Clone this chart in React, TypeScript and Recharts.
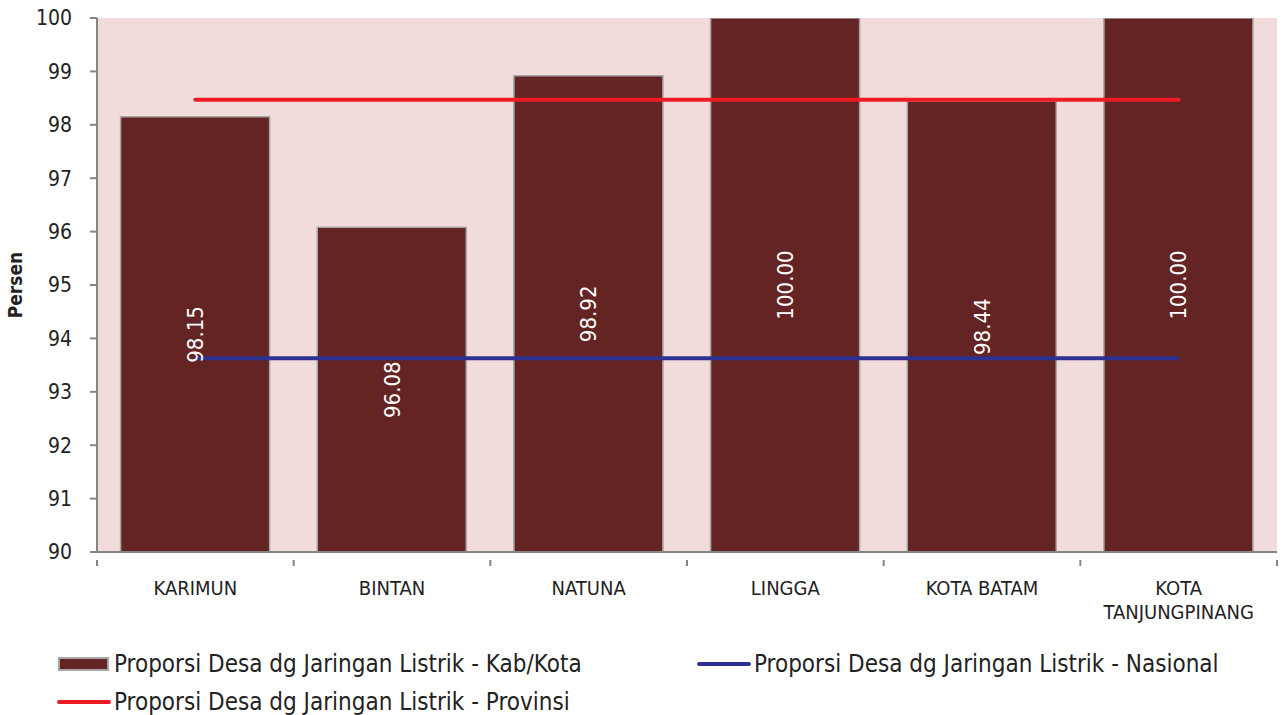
import React from "react";
import {
  Bar,
  CartesianGrid,
  ComposedChart,
  LabelList,
  Legend,
  Line,
  XAxis,
  YAxis,
} from "recharts";

const categories = ["KARIMUN", "BINTAN", "NATUNA", "LINGGA", "KOTA BATAM", "KOTA TANJUNGPINANG"];
const kabKota = [98.15, 96.08, 98.92, 100.0, 98.44, 100.0];
const nasional = [93.63, 93.63, 93.63, 93.63, 93.63, 93.63];
const provinsi = [98.47, 98.47, 98.47, 98.47, 98.47, 98.47];
const yTicks = [90, 91, 92, 93, 94, 95, 96, 97, 98, 99, 100];

const W = 1284;
const H = 715;
const FONT = "'DejaVu Sans Condensed', 'DejaVu Sans', sans-serif";
const BAR = "#632423";
const BLUE = "#2e3192";
const RED = "#ed1c24";
const AXIS = "#868686";

const data = categories.map((name, i) => ({
  name,
  kab: kabKota[i],
  nas: nasional[i],
  prov: provinsi[i],
}));

const PLOT_LEFT = 97;
const PLOT_RIGHT = 7;
const HALF_BAND = (W - PLOT_LEFT - PLOT_RIGHT) / categories.length / 2;

function CategoryTick(props: any) {
  const { x, y, payload, index } = props;
  const label: string = payload.value;
  const sp = label.indexOf(" ");
  const lines = label.length > 12 ? [label.slice(0, sp), label.slice(sp + 1)] : [label];
  return (
    <g>
      <line x1={x - HALF_BAND} x2={x - HALF_BAND} y1={y} y2={y + 6} stroke={AXIS} strokeWidth={2} />
      {index === categories.length - 1 && (
        <line x1={x + HALF_BAND} x2={x + HALF_BAND} y1={y} y2={y + 6} stroke={AXIS} strokeWidth={2} />
      )}
      <text x={x} y={y + 35} textAnchor="middle" fontSize={20} fill="#222" fontFamily={FONT}>
        {lines.map((l, i) => (
          <tspan key={i} x={x} dy={i === 0 ? 0 : 24}>
            {l}
          </tspan>
        ))}
      </text>
    </g>
  );
}

function LegendContent() {
  const items = [
    { label: "Proporsi Desa dg Jaringan Listrik - Kab/Kota", kind: "bar", color: BAR, x: 58, y: 664 },
    { label: "Proporsi Desa dg Jaringan Listrik - Nasional", kind: "line", color: BLUE, x: 697, y: 664 },
    { label: "Proporsi Desa dg Jaringan Listrik - Provinsi", kind: "line", color: RED, x: 57, y: 702 },
  ];
  return (
    <div style={{ position: "relative", width: W, height: 80 }}>
      {items.map((it) => (
        <div
          key={it.label}
          style={{
            position: "absolute",
            left: it.x,
            top: it.y - 640 - 16,
            height: 32,
            display: "flex",
            alignItems: "center",
            fontFamily: FONT,
            fontSize: 24,
            color: "#222",
            whiteSpace: "nowrap",
          }}
        >
          {it.kind === "bar" ? (
            <span
              style={{
                display: "inline-block",
                width: 47,
                height: 10,
                background: it.color,
                border: "2px solid #a6a6a6",
                marginRight: 5,
              }}
            />
          ) : (
            <span
              style={{
                display: "inline-block",
                width: 54,
                height: 4,
                background: it.color,
                borderRadius: 2,
                marginRight: 3,
              }}
            />
          )}
          {it.label}
        </div>
      ))}
    </div>
  );
}

export default function App() {
  return (
    <div style={{ position: "absolute", left: 0, top: 0, width: W, height: H, background: "#fff" }}>
      <ComposedChart
        width={W}
        height={H}
        data={data}
        margin={{ top: 18, right: PLOT_RIGHT, left: 0, bottom: 23 }}
        barCategoryGap="12%"
      >
        <CartesianGrid horizontal={false} vertical={false} fill="#f2dcdb" />
        <XAxis
          dataKey="name"
          height={60}
          interval={0}
          tickLine={false}
          axisLine={{ stroke: AXIS, strokeWidth: 2 }}
          tick={<CategoryTick />}
        />
        <XAxis xAxisId="top" dataKey="name" orientation="top" height={0} tick={false} tickLine={false} axisLine={{ stroke: "#a0a0a0", strokeWidth: 2 }} />
        <YAxis
          domain={[90, 100]}
          ticks={yTicks}
          width={PLOT_LEFT}
          interval={0}
          allowDataOverflow
          tick={{ fontSize: 21, fill: "#222", fontFamily: FONT }}
          tickLine={{ stroke: AXIS, strokeWidth: 2 }}
          tickSize={7}
          tickMargin={18}
          axisLine={{ stroke: AXIS, strokeWidth: 2 }}
          label={{
            value: "Persen",
            angle: -90,
            position: "insideLeft",
            dx: 10,
            style: { fontSize: 19, fontWeight: "bold", fill: "#222", fontFamily: FONT, textAnchor: "middle" },
          }}
        />
        <YAxis yAxisId="right" orientation="right" domain={[90, 100]} width={0} tick={false} tickLine={false} axisLine={{ stroke: "#a0a0a0", strokeWidth: 2 }} />
        <Bar dataKey="kab" fill={BAR} stroke="#a6a6a6" strokeWidth={1.5} isAnimationActive={false}>
          <LabelList
            dataKey="kab"
            position="center"
            angle={-90}
            formatter={(v: any) => Number(v).toFixed(2)}
            style={{ fill: "#fff", fontSize: 22, fontFamily: FONT }}
          />
        </Bar>
        <Line dataKey="nas" stroke={BLUE} strokeWidth={4} dot={false} activeDot={false} isAnimationActive={false} />
        <Line dataKey="prov" stroke={RED} strokeWidth={4} strokeLinecap="round" dot={false} activeDot={false} isAnimationActive={false} />
        <Legend
          content={<LegendContent />}
          wrapperStyle={{ position: "absolute", left: 0, top: 640, width: W, height: 80 }}
        />
      </ComposedChart>
    </div>
  );
}
